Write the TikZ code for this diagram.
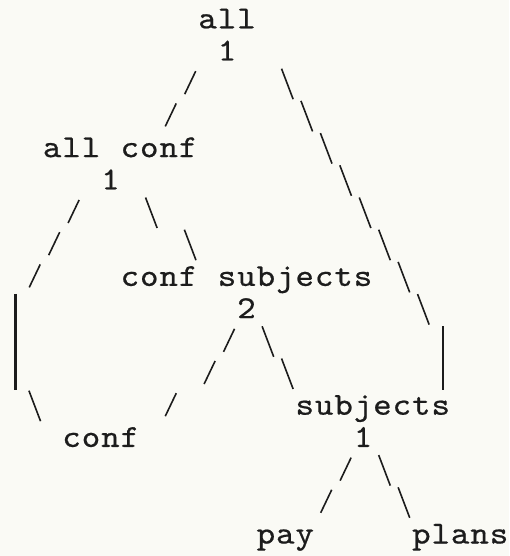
\documentclass[tikz,border=0pt]{standalone}
\usepackage{fontspec}
\newfontfamily\typefont[Extension=.otf, FakeBold=0.6, FakeStretch=1.1]{lmmono10-regular}
\definecolor{paper}{RGB}{250,250,245}
\definecolor{ink}{RGB}{28,28,28}

% one character per typewriter cell (cell width 19.43pt)
\makeatletter
\newcommand\typed[1]{\typed@step#1\relax}
\def\typed@step#1{\ifx\relax#1\else\makebox[19.43pt]{#1}\expandafter\typed@step\fi}
\makeatother

% typed strokes, placed by (column,row) of the character grid
\newcommand\fwdslash[2]{\draw[stroke] ({#1+0.603},#2) +(5.5pt,21.5pt) -- +(-5.5pt,-1.5pt);}
\newcommand\bwdslash[2]{\draw[stroke] ({#1+0.603},#2) +(-5.8pt,24pt) -- +(5.8pt,-6.5pt);}
\newcommand\vbar[3]{\draw[bar] ([yshift=24.3pt]{#1+0.603},#2) -- ([yshift=-7pt]{#1+0.603},#3);}

\begin{document}
\begin{tikzpicture}[x=19.43pt, y=-32.2pt,
  word/.style={anchor=base west, inner sep=0pt, outer sep=0pt, text=ink,
    font=\typefont\fontsize{32}{32}\selectfont},
  stroke/.style={draw=ink, line width=1.6pt},
  bar/.style={draw=ink, line width=2.4pt}]
\fill[paper] (0pt,0pt) rectangle (509pt,-556pt);
\useasboundingbox (0pt,0pt) rectangle (509pt,-556pt);
\begin{scope}[shift={(3.6pt,-28.3pt)}]
  % labels and counts
  \node[word] (all)       at (10,0)  {\typed{all}};
  \node[word] (all1)      at (11,1)  {\typed{1}};
  \node[word] (allconf)   at (2,4)   {\typed{all~conf}};
  \node[word] (allconf1)  at (5,5)   {\typed{1}};
  \node[word] (confsubj)  at (6,8)   {\typed{conf~subjects}};
  \node[word] (confsubj2) at (12,9)  {\typed{2}};
  \node[word] (subj)      at (15,12) {\typed{subjects}};
  \node[word] (subj1)     at (18,13) {\typed{1}};
  \node[word] (conf)      at (3,13)  {\typed{conf}};
  \node[word] (pay)       at (13,16) {\typed{pay}};
  \node[word] (plans)     at (21,16) {\typed{plans}};

  % all -> all conf
  \foreach \c/\r in {9/2, 8/3} {\fwdslash{\c}{\r}}
  % all -> subjects
  \foreach \c/\r in {14/2, 15/3, 16/4, 17/5, 18/6, 19/7, 20/8, 21/9} {\bwdslash{\c}{\r}}
  \vbar{22}{10}{11}
  % all conf -> conf
  \foreach \c/\r in {3/6, 2/7, 1/8} {\fwdslash{\c}{\r}}
  \vbar{0}{9}{11}
  \bwdslash{1}{12}
  % all conf -> conf subjects
  \foreach \c/\r in {7/6, 9/7} {\bwdslash{\c}{\r}}
  % conf subjects -> conf
  \foreach \c/\r in {11/10, 10/11, 8/12} {\fwdslash{\c}{\r}}
  % conf subjects -> subjects
  \foreach \c/\r in {13/10, 14/11} {\bwdslash{\c}{\r}}
  % subjects -> pay
  \foreach \c/\r in {17/14, 16/15} {\fwdslash{\c}{\r}}
  % subjects -> plans
  \foreach \c/\r in {19/14, 20/15} {\bwdslash{\c}{\r}}
\end{scope}
\end{tikzpicture}
\end{document}
